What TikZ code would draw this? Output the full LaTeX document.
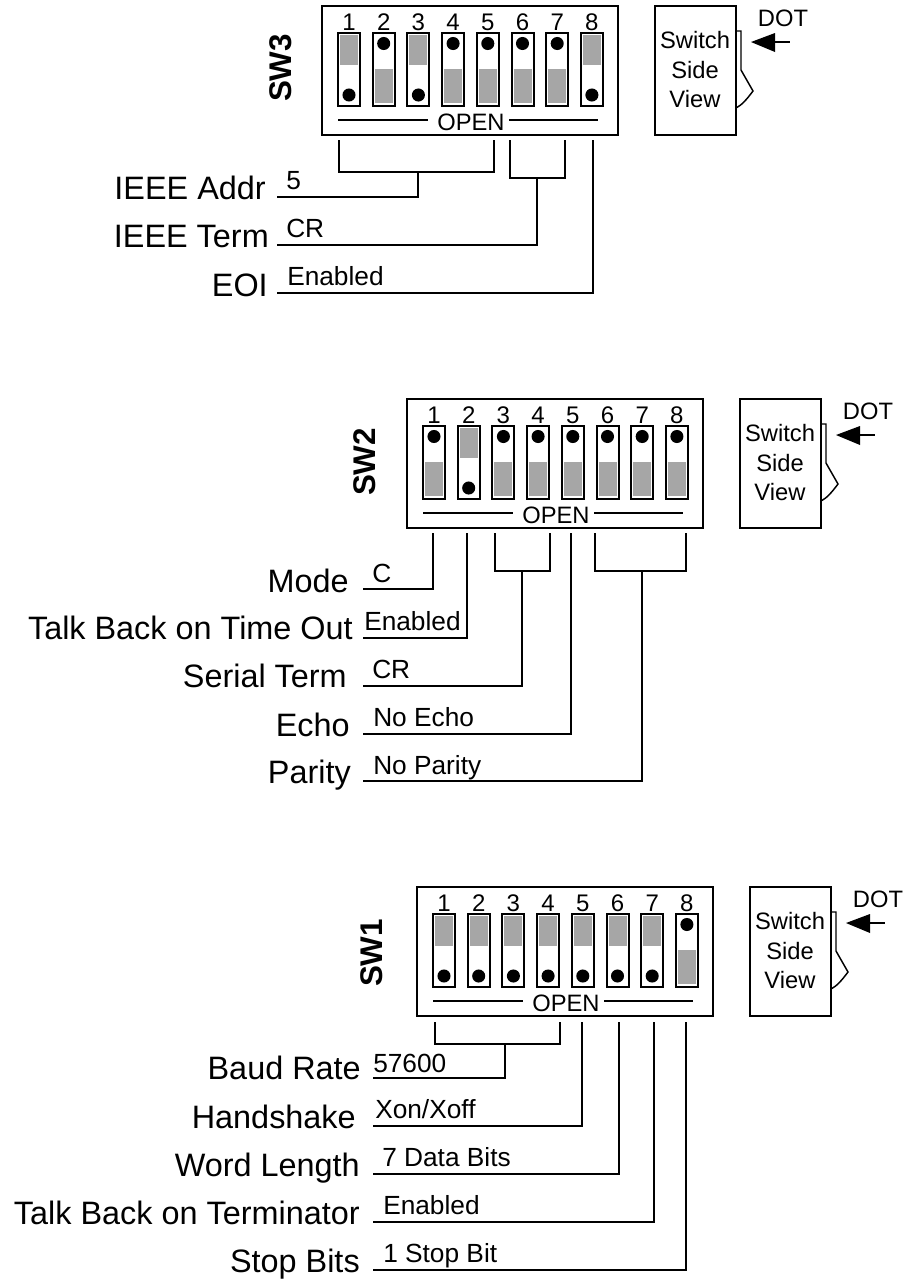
\documentclass[tikz,border=0pt]{standalone}
\usepackage{fontspec}
\setmainfont{Liberation Sans}
\begin{document}
\begin{tikzpicture}[x=0.75pt,y=-0.75pt,line cap=butt,
  wire/.style={line width=1.5pt},
  thin line/.style={line width=1.1pt},
  big/.style={font=\fontsize{24.3}{28}\selectfont,inner sep=0pt},
  small/.style={font=\fontsize{17.8}{20}\selectfont,inner sep=0pt},
  num/.style={font=\fontsize{18}{20}\selectfont,inner sep=0pt},
  swname/.style={font=\fontsize{23.5}{26}\selectfont\bfseries,inner sep=0pt,rotate=90},
  shade/.style={fill=black!35,draw=none},
  dot/.style={circle,fill=black,minimum size=9.8pt,inner sep=0pt,draw=none},
  lbl/.style={big,anchor=base east},
  val/.style={font=\fontsize{19.7}{22}\selectfont,inner sep=0pt,anchor=base west}]
\useasboundingbox (0,0) rectangle (906,1279);
\newcommand{\dipunit}[2]{% index, state (u or d)
  \pgfmathsetmacro{\xx}{338+(#1-1)*34.7}
  \begin{scope}[xshift=\xx*0.75pt]
    \node[num] (n#1) at (11,22) {#1};
    \draw[wire] (0,33) rectangle (22,106);
    \if#2u
      \fill[shade] (2,69) rectangle (20,103);
      \node[dot] (d#1) at (11,43.5) {};
    \else
      \fill[shade] (2,35) rectangle (20,65);
      \node[dot] (d#1) at (11,95) {};
    \fi
  \end{scope}}
\newcommand{\sideview}{%
  \draw[wire] (655,6) rectangle (736,135);
  \node[small] (t1) at (695,40) {Switch};
  \node[small] (t2) at (695,70) {Side};
  \node[small] (t3) at (695,99) {View};
  \node[small] (dotlabel) at (783,18) {DOT};
  \draw[line width=1.1pt] (736,31) -- (741,31) -- (741,70) -- (753,91) .. controls (747,99) and (742,105) .. (736,108);
  \fill (751,42) -- (775,33) -- (775,52) -- cycle;
  \draw[thin line] (775,42) -- (790,42);}
\newcommand{\openrow}{%
  \node[small] (open) at (471,122) {OPEN};
  \draw[thin line] (338,120) -- (428,120);
  \draw[thin line] (509,120) -- (598,120);}
\newcommand{\allunits}[8]{%
  \draw[wire] (322,6) rectangle (618,135);
  \dipunit{1}{#1}\dipunit{2}{#2}\dipunit{3}{#3}\dipunit{4}{#4}%
  \dipunit{5}{#5}\dipunit{6}{#6}\dipunit{7}{#7}\dipunit{8}{#8}%
  \openrow\sideview}

% SW3
\begin{scope}[name prefix=a-]
  \allunits{d}{u}{d}{u}{u}{u}{u}{d}
\end{scope}
\node[swname] (sw3) at (281,68) {SW3};
\node[lbl] (l31) at (266,199) {IEEE Addr};
\node[lbl] (l32) at (269,247) {IEEE Term};
\node[lbl] (l33) at (268,296) {EOI};
\node[val] (v31) at (286,189) {5};
\node[val] (v32) at (286,237) {CR};
\node[val] (v33) at (287,285) {Enabled};
\coordinate (c31) at (277,197);\coordinate (c32) at (277,245);\coordinate (c33) at (277,293);
\draw[wire] (339,140) -- (339,172) -- (494,172) -- (494,140);
\draw[wire] (c31) -- (418,197) -- (418,172);
\draw[wire] (510,140) -- (510,178) -- (565,178) -- (565,140);
\draw[wire] (c32) -- (537,245) -- (537,178);
\draw[wire] (c33) -- (593,293) -- (593,140);

% SW2
\begin{scope}[shift={(85,393)},name prefix=b-]
  \allunits{u}{d}{u}{u}{u}{u}{u}{u}
\end{scope}
\node[swname] (sw2) at (365,462) {SW2};
\node[lbl] (l21) at (349,592) {Mode};
\node[lbl] (l22) at (353,639) {Talk Back on Time Out};
\node[lbl] (l23) at (347,687) {Serial Term};
\node[lbl] (l24) at (350,736) {Echo};
\node[lbl] (l25) at (351,783) {Parity};
\node[val] (v21) at (372,582) {C};
\node[val] (v22) at (364,630) {Enabled};
\node[val] (v23) at (372,678) {CR};
\node[val] (v24) at (373,726) {No Echo};
\node[val] (v25) at (373,774) {No Parity};
\coordinate (c21) at (363,589);\coordinate (c22) at (363,638);\coordinate (c23) at (363,686);\coordinate (c24) at (363,734);\coordinate (c25) at (363,781);
\draw[wire] (c21) -- (433,589) -- (433,533);
\draw[wire] (c22) -- (467,638) -- (467,533);
\draw[wire] (495,533) -- (495,571) -- (550,571) -- (550,533);
\draw[wire] (c23) -- (522,686) -- (522,571);
\draw[wire] (c24) -- (571,734) -- (571,533);
\draw[wire] (595,533) -- (595,571) -- (686,571) -- (686,533);
\draw[wire] (c25) -- (642,781) -- (642,571);

% SW1
\begin{scope}[shift={(95,881)},name prefix=c-]
  \allunits{d}{d}{d}{d}{d}{d}{d}{u}
\end{scope}
\node[swname] (sw1) at (372,953) {SW1};
\node[lbl] (l11) at (361,1079) {Baud Rate};
\node[lbl] (l12) at (356,1128) {Handshake};
\node[lbl] (l13) at (360,1176) {Word Length};
\node[lbl] (l14) at (360,1224) {Talk Back on Terminator};
\node[lbl] (l15) at (360,1272) {Stop Bits};
\node[val] (v11) at (373,1072) {57600};
\node[val] (v12) at (375,1118) {Xon/Xoff};
\node[val] (v13) at (382,1166) {7 Data Bits};
\node[val] (v14) at (383,1214) {Enabled};
\node[val] (v15) at (383,1262) {1 Stop Bit};
\coordinate (c11) at (373,1078);\coordinate (c12) at (373,1126);\coordinate (c13) at (373,1174);\coordinate (c14) at (373,1222);\coordinate (c15) at (373,1270);
\draw[wire] (435,1022) -- (435,1044) -- (560,1044) -- (560,1022);
\draw[wire] (c11) -- (505,1078) -- (505,1044);
\draw[wire] (c12) -- (582,1126) -- (582,1022);
\draw[wire] (c13) -- (619,1174) -- (619,1022);
\draw[wire] (c14) -- (654,1222) -- (654,1022);
\draw[wire] (c15) -- (686,1270) -- (686,1022);
\end{tikzpicture}
\end{document}
